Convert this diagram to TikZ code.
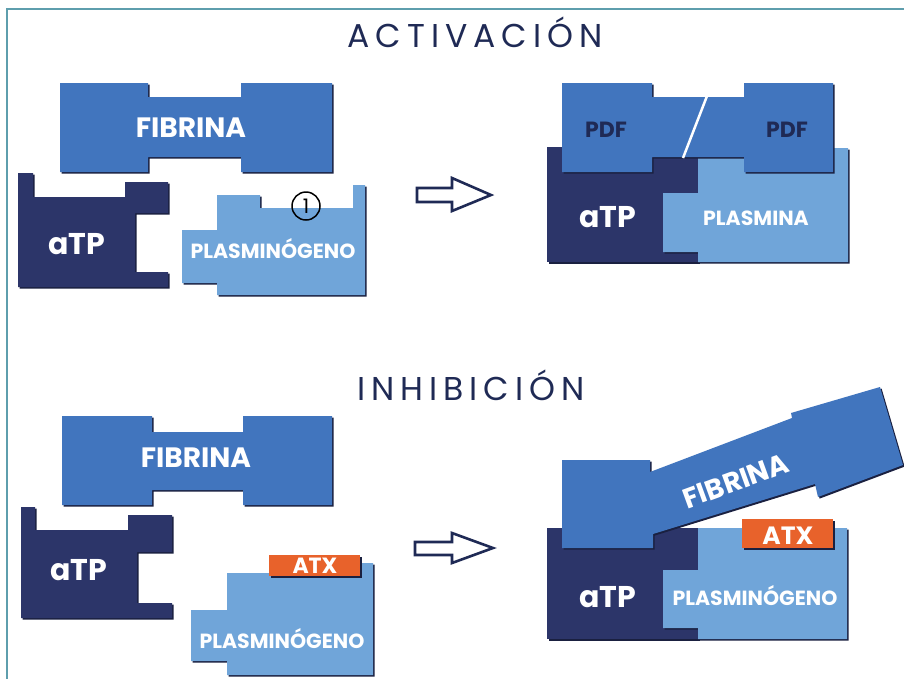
\documentclass[tikz,border=0pt]{standalone}
\usepackage{fontspec}
\setmainfont{Poppins}
\newfontfamily\titlefont{Poppins}[LetterSpace=18]
\definecolor{fib}{HTML}{4175BE}
\definecolor{atp}{HTML}{2C3569}
\definecolor{plg}{HTML}{70A5D9}
\definecolor{atx}{HTML}{E8622B}
\definecolor{navy}{HTML}{1F2A55}
\definecolor{framecol}{HTML}{5E9EAD}
\definecolor{shd}{HTML}{1A2040}
\newcommand\piece[2]{\fill[shd,shift={(1.6,1.6)}] #2; \fill[#1] #2;}
\tikzset{
  lbl/.style={text=white, anchor=base, inner sep=0pt},
  big/.style={lbl, font=\fontsize{30}{30}\selectfont\bfseries},
  mid/.style={lbl, font=\fontsize{28}{28}\selectfont\bfseries},
  sml/.style={lbl, font=\fontsize{20.5}{20.5}\selectfont\bfseries},
  atxf/.style={lbl, font=\fontsize{22}{22}\selectfont\bfseries},
  atxbig/.style={lbl, font=\fontsize{25}{25}\selectfont\bfseries},
  pdff/.style={text=navy, anchor=base, inner sep=0pt, font=\fontsize{22}{22}\selectfont\bfseries},
  title/.style={text=navy, anchor=base, inner sep=0pt, font=\titlefont\fontsize{33}{33}\selectfont},
  blockarrow/.style={draw=navy, line width=2.6pt, fill=white, line join=miter},
}
\begin{document}
\begin{tikzpicture}[x=1pt,y=-1pt]
\useasboundingbox (0,0) rectangle (904,678);
\fill[white] (0,0) rectangle (904,678);
\draw[framecol, line width=1.5pt] (7,682) -- (7,9) -- (908,9);

% titles
\node[title] (t1) at (475,47) {ACTIVACIÓN};
\node[title] (t2) at (471,400) {INHIBICIÓN};

% ===== Activation, left =====
\piece{fib}{(60,83) -- (148,83) -- (148,97) -- (241,97) -- (241,83) -- (332,83) -- (332,172) -- (241,172) -- (241,157) -- (148,157) -- (148,172) -- (60,172) -- cycle}
\piece{atp}{(18,173) -- (33,173) -- (33,197) -- (125,197) -- (125,182) -- (168,182) -- (168,213) -- (135,213) -- (135,272) -- (168,272) -- (168,287) -- (18,287) -- cycle}
\piece{plg}{(182,230) -- (217,230) -- (217,195) -- (260,195) -- (260,208) -- (353,208) -- (353,185) -- (365,185) -- (365,295) -- (217,295) -- (217,283) -- (182,283) -- cycle}
\node[mid] (fibA) at (191,137) {FIBRINA};
\node[big] (atpA) at (77,254) {aTP};
\node[sml] (plgA) at (273,258) {PLASMINÓGENO};
\node[draw=black, circle, line width=1.5pt, minimum size=28pt, inner sep=0pt, font=\fontsize{20}{20}\selectfont] (one) at (306,206) {1};

\draw[blockarrow] (417,188) -- (452,188) -- (452,178) -- (491,195) -- (452,211) -- (452,202) -- (417,202) -- cycle;

% ===== Activation, right =====
\piece{atp}{(547,147) -- (698,147) -- (698,262) -- (547,262) -- cycle}
\piece{plg}{(698,148) -- (848,148) -- (848,262) -- (698,262) -- (698,252) -- (663,252) -- (663,193) -- (698,193) -- cycle}
\piece{fib}{(562,83) -- (652,83) -- (652,97) -- (744,97) -- (744,83) -- (833,83) -- (833,172) -- (744,172) -- (744,157) -- (652,157) -- (652,172) -- (562,172) -- cycle}
\draw[white, line width=2.5pt] (707,96) -- (683,158);
\node[pdff] (pdf1) at (606,137) {PDF};
\node[pdff] (pdf2) at (787,137) {PDF};
\node[big] (atpB) at (608,227) {aTP};
\node[sml] (plasmina) at (756,225) {PLASMINA};

% ===== Inhibition, left =====
\piece{fib}{(62,416) -- (152,416) -- (152,432) -- (243,432) -- (243,416) -- (332,416) -- (332,505) -- (243,505) -- (243,490) -- (152,490) -- (152,505) -- (62,505) -- cycle}
\piece{atp}{(21,507) -- (35,507) -- (35,530) -- (128,530) -- (128,515) -- (172,515) -- (172,552) -- (137,552) -- (137,603) -- (172,603) -- (172,618) -- (21,618) -- cycle}
\piece{plg}{(191,610) -- (227,610) -- (227,573) -- (360,573) -- (360,563) -- (373,563) -- (373,675) -- (227,675) -- (227,661) -- (191,661) -- cycle}
\piece{atx}{(269,555) -- (360,555) -- (360,576) -- (269,576) -- cycle}
\node[mid] (fibC) at (196,467) {FIBRINA};
\node[big] (atpC) at (79,580) {aTP};
\node[atxf] (atxC) at (315,573) {ATX};
\node[sml] (plgC) at (282,648) {PLASMINÓGENO};

\draw[blockarrow] (415,542) -- (452,542) -- (452,533) -- (493,548) -- (452,563) -- (452,555) -- (415,555) -- cycle;

% ===== Inhibition, right =====
\piece{atp}{(547,528) -- (698,528) -- (698,639) -- (547,639) -- cycle}
\piece{plg}{(698,528) -- (847,528) -- (847,639) -- (698,639) -- (698,628) -- (663,628) -- (663,570) -- (698,570) -- cycle}
\piece{atx}{(742,519) -- (833,519) -- (833,548) -- (742,548) -- cycle}
\piece{fib}{(562,460) -- (650,460) -- (650,472) -- (792,418) -- (791,413) -- (880,387) -- (903,465) -- (818,497) -- (815,484) -- (653,534) -- (653,548) -- (562,548) -- cycle}
\node[mid, anchor=center, rotate=20] (fibD) at (736,481) {FIBRINA};
\node[big] (atpD) at (608,607) {aTP};
\node[atxbig] (atxD) at (788,544) {ATX};
\node[sml] (plgD) at (755,605) {PLASMINÓGENO};
\end{tikzpicture}
\end{document}
